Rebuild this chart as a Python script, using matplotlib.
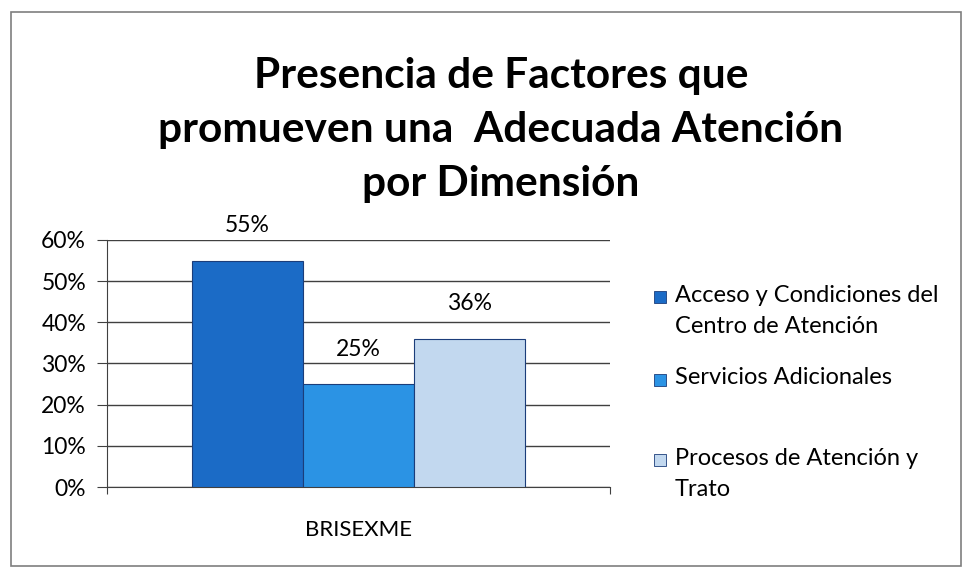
import matplotlib.pyplot as plt
from matplotlib.patches import Rectangle

plt.rcParams['font.family'] = ['Lato', 'DejaVu Sans']

categoria = "BRISEXME"
series = ["Acceso y Condiciones del\nCentro de Atención",
          "Servicios Adicionales",
          "Procesos de Atención y\nTrato"]
valores = [55, 25, 36]
etiquetas = ["55%", "25%", "36%"]
colores = ["#1b6bc6", "#2b93e4", "#c2d8ef"]
yticks = [0, 10, 20, 30, 40, 50, 60]

fig = plt.figure(figsize=(9.63, 5.68), dpi=100)
fig.patches.append(Rectangle((0.011, 0.003), 0.987, 0.976, transform=fig.transFigure,
                             fill=False, edgecolor="#7f7f7f", linewidth=1.2))

ax = fig.add_axes([0.111, 0.1426, 0.522, 0.435])
ancho = 0.221
offsets = [-ancho, 0, ancho]
for v, c, o, lab in zip(valores, colores, offsets, etiquetas):
    ax.bar(o, v, width=ancho, color=c, edgecolor="#1b3d7a", linewidth=0.8, zorder=3)
    ax.text(o, v + 8.5, lab, ha="center", va="center", fontsize=16.5)

ax.set_xlim(-0.5, 0.5)
ax.set_ylim(0, 60)
ax.set_yticks(yticks)
ax.set_yticklabels([f"{t}%" for t in yticks], fontsize=16.5)
ax.yaxis.grid(True, color="#404040", linewidth=1.0, zorder=0)
ax.set_xticks([-0.5, 0.5])
ax.set_xticklabels(["", ""])
ax.text(0, -10.5, categoria, ha="center", va="center", fontsize=16,
        transform=ax.transData)
for s in ["top", "right"]:
    ax.spines[s].set_visible(False)
ax.spines["left"].set_color("#404040")
ax.spines["bottom"].set_color("#404040")
ax.tick_params(axis="y", length=7, color="#404040", pad=8)
ax.tick_params(axis="x", length=5, color="#404040")

fig.text(0.52, 0.771, "Presencia de Factores que\npromueven una  Adecuada Atención\npor Dimensión",
         ha="center", va="center", fontsize=30.5, fontweight="bold", linespacing=1.52)

# leyenda
ley_y = [0.477, 0.331, 0.190]
for lab, c, y in zip(series, colores, ley_y):
    fig.patches.append(Rectangle((0.679, y - 0.01), 0.013, 0.021, transform=fig.transFigure,
                                 facecolor=c, edgecolor="#1b3d7a", linewidth=0.6))
    fig.text(0.701, y + 0.022, lab, ha="left", va="top", fontsize=17, linespacing=1.6)

fig.savefig("out.png", dpi=100)
